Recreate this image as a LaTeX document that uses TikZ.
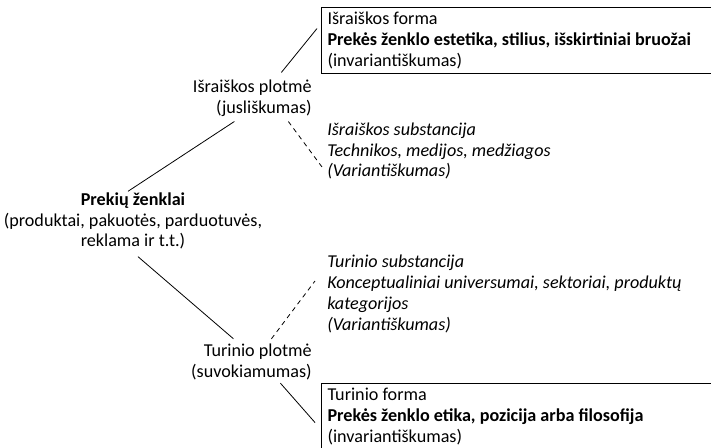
\documentclass[tikz,border=0pt]{standalone}
\usepackage{fontspec}
\setmainfont{Carlito}
\usetikzlibrary{positioning,calc}

\begin{document}
\begin{tikzpicture}[x=0.75pt, y=-0.75pt, font=\fontsize{13.6}{15.6}\selectfont,
    plane/.style={align=right, inner sep=0pt},
    formbox/.style={rectangle, draw, line width=0.8pt, anchor=north west,
        text width=290pt, minimum height=49.5pt, inner xsep=4.5pt, align=flush left},
    subst/.style={anchor=west, inner xsep=4.5pt, align=flush left,
        font=\fontsize{13.6}{15.7}\selectfont\itshape},
    conn/.style={line width=0.6pt},
    dconn/.style={conn, dash pattern=on 3.5pt off 3pt}
]
    \useasboundingbox (0,0) rectangle (711,448);
    \clip (0,0) rectangle (711,448);

    % === Centre: brands ===
    \node[align=center, inner sep=0pt] (prek) at (133,221)
        {\textbf{Prekių ženklai}\\(produktai, pakuotės, parduotuvės,\\reklama ir t.t.)};

    % === Planes ===
    \node[plane, anchor=east] (isrpl) at (312,98) {Išraiškos plotmė\\(jusliškumas)};
    \node[plane, anchor=east] (turpl) at (312,362) {Turinio plotmė\\(suvokiamumas)};

    % === Forms (boxed) ===
    \node[formbox] (isrforma) at (321,7)
        {Išraiškos forma\\\textbf{Prekės ženklo estetika, stilius, išskirtiniai bruožai}\\(invariantiškumas)};
    \node[formbox] (turforma) at (321,383)
        {Turinio forma\\\textbf{Prekės ženklo etika, pozicija arba filosofija}\\(invariantiškumas)};

    % === Substances ===
    \node[subst] (isrsub) at (321,151)
        {Išraiškos substancija\\Technikos, medijos, medžiagos\\(Variantiškumas)};
    \node[subst] (tursub) at (321,294)
        {Turinio substancija\\Konceptualiniai universumai, sektoriai, produktų\\kategorijos\\(Variantiškumas)};

    % Connectors
    \draw[conn] ($(prek.north)+(-5,-1)$) -- ($(isrpl.south)+(-18,5)$);
    \draw[conn] ($(isrpl.north)+(29,-7)$) -- ($(isrforma.west)+(-4,-12)$);
    \draw[dconn] ($(isrpl.south)+(36,5)$) -- ($(isrsub.west)+(1,16)$);
    \draw[conn] ($(prek.south)+(5,7)$) -- ($(turpl.north)+(-18,-5)$);
    \draw[dconn] ($(turpl.north)+(20,-5)$) -- ($(tursub.west)+(-6,-13)$);
    \draw[conn] ($(turpl.south)+(29,3)$) -- ($(turforma.west)+(-6,6)$);
\end{tikzpicture}
\end{document}
